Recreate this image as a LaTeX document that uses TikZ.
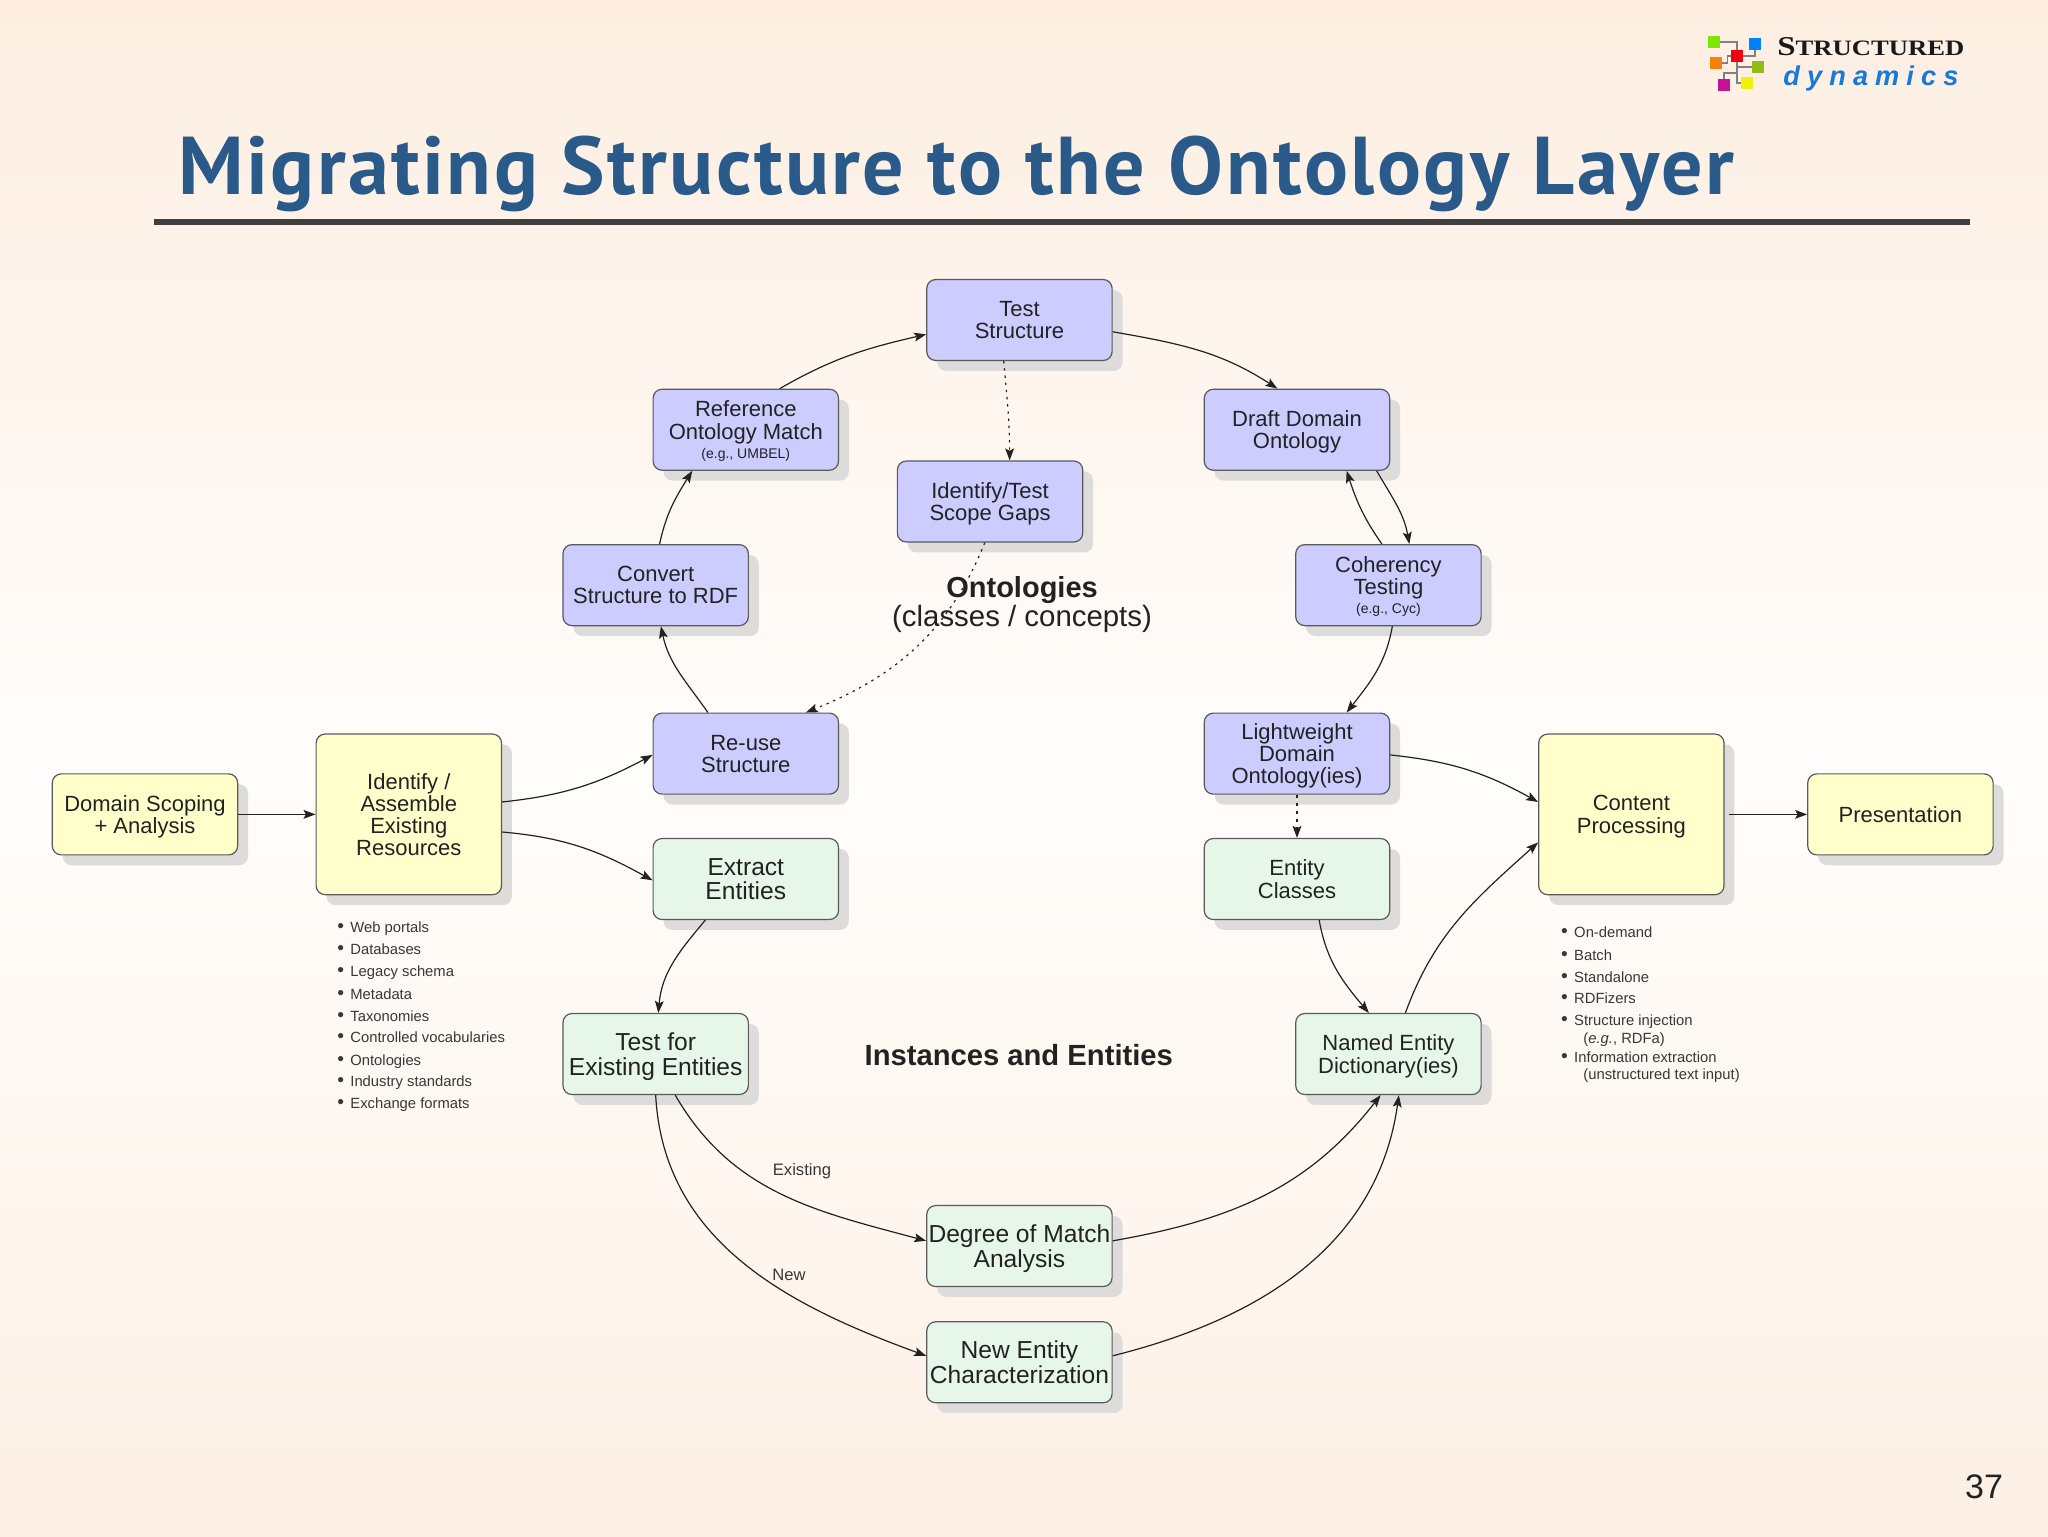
\documentclass[tikz,border=0pt]{standalone}
\usepackage{fontspec}
\setmainfont{Liberation Sans}
\newfontfamily\titlefont[LetterSpace=3]{PT Sans}
\newfontfamily\logoserif{Liberation Serif}
\newfontfamily\logodyn[LetterSpace=26]{Liberation Sans}
\usetikzlibrary{arrows.meta,shadows}
\definecolor{purplebox}{HTML}{CCCCFF}
\definecolor{yellowbox}{HTML}{FFFFCC}
\definecolor{greenbox}{HTML}{E6F7EA}
\definecolor{edgecol}{HTML}{5A5A5A}
\definecolor{inkcol}{HTML}{222222}
\definecolor{listcol}{HTML}{383838}
\definecolor{titlecol}{HTML}{2A5A8A}
\definecolor{shadowcol}{HTML}{DEDCDA}
\definecolor{peach}{HTML}{FDEEE1}
\definecolor{peachb}{HTML}{FDF0E5}
\definecolor{paper}{HTML}{FFFDFB}
\newcommand{\fsz}[1]{\fontsize{#1}{#1}\selectfont}
\tikzset{
  x=0.65306pt,y=-0.65306pt,
  bx/.style={draw=edgecol,line width=0.6pt,rounded corners=4.5pt,inner sep=0pt,align=center,
    minimum width=92.7pt,minimum height=40.5pt,text=inkcol,text depth=0pt,
    font=\fontsize{11}{11.1}\selectfont,
    drop shadow={shadow xshift=5.2pt,shadow yshift=-5.2pt,fill=shadowcol,opacity=1}},
  pbox/.style={bx,fill=purplebox},
  ybox/.style={bx,fill=yellowbox},
  gbox/.style={bx,fill=greenbox},
  gbig/.style={gbox,font=\fontsize{12.3}{12.4}\selectfont},
  tall/.style={minimum height=80.3pt},
  arr/.style={draw=inkcol,line width=0.6pt,-{Stealth[length=6pt,width=4.4pt,inset=1.2pt]}},
  dot/.style={arr,dash pattern=on 1.2pt off 2.4pt},
  itm/.style={anchor=base west,inner sep=0pt,text=listcol,font=\fsz{7.4}},
  lbl/.style={inner sep=0pt,text=listcol,font=\fsz{8.3}},
  sq/.style={minimum size=6pt,inner sep=0pt,draw=none},
}
\newcommand{\bul}{\makebox[6.5pt][l]{\scalebox{1.3}{•}}}
\begin{document}
\begin{tikzpicture}
\useasboundingbox (0,0) rectangle (1568,1176);
\shade[top color=peach,bottom color=peachb,middle color=paper] (0,0) rectangle (1568,1176);

% logo, in pixels of the 2048 image
\begin{scope}[x=0.5pt,y=-0.5pt]
\node[sq,fill={rgb,255:red,124;green,232;blue,0}] (lgreen) at (1714,42) {};
\node[sq,fill={rgb,255:red,0;green,128;blue,255}] (lblue) at (1755,44) {};
\node[sq,fill={rgb,255:red,240;green,0;blue,16}] (lred) at (1737,56) {};
\node[sq,fill={rgb,255:red,245;green,128;blue,10}] (lorange) at (1716,63) {};
\node[sq,fill={rgb,255:red,144;green,190;blue,20}] (lolive) at (1758,67) {};
\node[sq,fill={rgb,255:red,196;green,20;blue,150}] (lmag) at (1724,85) {};
\node[sq,fill={rgb,255:red,240;green,240;blue,10}] (lyel) at (1747,83) {};
\draw[gray,line width=0.7pt] (lgreen) -| (lred);
\draw[gray,line width=0.7pt] (lblue) |- (lred);
\draw[gray,line width=0.7pt] (lorange.east) -- ++(5,0) |- (lred.west);
\draw[gray,line width=0.7pt] (lred) |- (lyel);
\draw[gray,line width=0.7pt] (lred) |- (lolive);
\draw[gray,line width=0.7pt] (lmag) |- (1737,73) coordinate (lj);
\node[anchor=base west,inner sep=0pt,text=black!90] (lstruct) at (1777,55)
  {\scalebox{1.21}[1]{\logoserif\bfseries\fontsize{13.6}{13.6}\selectfont S\fontsize{11}{11}\selectfont TRUCTURED}};
\node[anchor=base west,inner sep=0pt,text={rgb,255:red,24;green,120;blue,220}] (ldyn) at (1783,85)
  {\logodyn\bfseries\itshape\fontsize{13.6}{13.6}\selectfont dynamics};
\end{scope}

% title
\node[inner sep=0pt,anchor=base west,text=titlecol] (title) at (136,149)
  {\titlefont\bfseries\fontsize{41}{41}\selectfont Migrating Structure to the Ontology Layer};
\fill[fill={rgb,255:red,63;green,63;blue,63}] (118,168) rectangle (1508,172);

% boxes
\node[pbox] (test) at (780.5,245) {Test\\Structure};
\node[pbox] (ref) at (571,329) {Reference\\Ontology Match\\[-1.5pt]{\fsz{7}(e.g., UMBEL)}};
\node[pbox] (draft) at (993,329) {Draft Domain\\Ontology};
\node[pbox] (idt) at (758,384) {Identify/Test\\Scope Gaps};
\node[pbox] (conv) at (502,448) {Convert\\Structure to RDF};
\node[pbox] (coh) at (1063,448) {Coherency\\Testing\\[-1.5pt]{\fsz{7}(e.g., Cyc)}};
\node[pbox] (reuse) at (571,577) {Re-use\\Structure};
\node[pbox] (light) at (993,577) {Lightweight\\Domain\\Ontology(ies)};
\node[ybox] (dom) at (111,623.5) {Domain Scoping\\+ Analysis};
\node[ybox,tall] (ident) at (313,623.5) {Identify /\\Assemble\\Existing\\Resources};
\node[ybox,tall] (cont) at (1249,623.5) {Content\\Processing};
\node[ybox] (pres) at (1455,623.5) {Presentation};
\node[gbig] (extr) at (571,673) {Extract\\Entities};
\node[gbox] (ent) at (993,673) {Entity\\Classes};
\node[gbig] (tfe) at (502,807) {Test for\\Existing Entities};
\node[gbox] (ned) at (1063,807) {Named Entity\\Dictionary(ies)};
\node[gbig] (deg) at (780.5,954) {Degree of Match\\Analysis};
\node[gbig] (newe) at (780.5,1043) {New Entity\\Characterization};

% connectors
\draw[arr] ([shift={(26,0)}]ref.north) to[out=30,in=193] ([shift={(0,11)}]test.west);
\draw[arr] ([shift={(0,9)}]test.east) to[out=-10,in=147] ([shift={(-15,0)}]draft.north);
\draw[arr] ([shift={(3,0)}]conv.north) to[out=78,in=238] ([shift={(-41,0)}]ref.south);
\draw[arr] ([shift={(-29,0)}]reuse.north) to[out=125,in=-78] ([shift={(4,0)}]conv.south);
\draw[arr] ([shift={(-5,0)}]coh.north) to[out=125,in=-72] ([shift={(38,0)}]draft.south);
\draw[arr] ([shift={(61,0)}]draft.south) to[out=-60,in=100] ([shift={(16,0)}]coh.north);
\draw[arr] ([shift={(3,0)}]coh.south) to[out=-100,in=52] ([shift={(38,0)}]light.north);
\draw[arr] ([shift={(0,-9.5)}]ident.east) to[out=6,in=208] ([shift={(0,1)}]reuse.west);
\draw[arr] ([shift={(0,13.5)}]ident.east) to[out=-5,in=151] ([shift={(0,1)}]extr.west);
\draw[arr] (dom.east) -- (ident.west);
\draw[arr] ([shift={(0,1)}]light.east) to[out=-6,in=151] ([shift={(0,-9.5)}]cont.west);
\draw[arr] ([shift={(13,0)}]ned.north) to[out=70,in=222] ([shift={(0,21.5)}]cont.west);
\draw[arr] ([shift={(3,0)}]cont.east) -- (pres.west);
\draw[arr,dash pattern=on 1.5pt off 2.5pt] (light.south) -- (ent.north);
\draw[arr] ([shift={(17,0)}]ent.south) to[out=-80,in=130] ([shift={(-15,0)}]ned.north);
\draw[arr] ([shift={(-31,0)}]extr.south) to[out=-130,in=85] ([shift={(2,0)}]tfe.north);
\draw[arr] ([shift={(15,0)}]tfe.south) to[out=-60,in=165] ([shift={(0,-4)}]deg.west);
\draw[arr] (tfe.south) to[out=-87,in=160] ([shift={(0,-5)}]newe.west);
\draw[arr] ([shift={(0,-4)}]deg.east) to[out=10,in=232] ([shift={(-6,0)}]ned.south);
\draw[arr] ([shift={(0,-5)}]newe.east) to[out=14,in=262] ([shift={(8,0)}]ned.south);
\draw[dot] ([shift={(-12,0)}]test.south) to[out=-85,in=90] ([shift={(15,0)}]idt.north);
\draw[dot] ([shift={(-4,0)}]idt.south) to[out=-112,in=22] ([shift={(46,0)}]reuse.north);

% captions
\node[inner sep=0pt,align=center,text=inkcol] (onto) at (782.5,463)
  {{\bfseries\fontsize{14.5}{15.2}\selectfont Ontologies}\\{\fontsize{14.7}{15.2}\selectfont (classes / concepts)}};
\node[inner sep=0pt,text=inkcol,font=\bfseries\fsz{14.6}] (inst) at (780,808) {Instances and Entities};
\node[lbl] (lex) at (614,897) {Existing};
\node[lbl] (lnew) at (604,976) {New};

% lists
\node[itm] (a1) at (258,714) {\bul Web portals};
\node[itm] (a2) at (258,731) {\bul Databases};
\node[itm] (a3) at (258,748) {\bul Legacy schema};
\node[itm] (a4) at (258,765) {\bul Metadata};
\node[itm] (a5) at (258,782) {\bul Taxonomies};
\node[itm] (a6) at (258,798.5) {\bul Controlled vocabularies};
\node[itm] (a7) at (258,815.5) {\bul Ontologies};
\node[itm] (a8) at (258,832) {\bul Industry standards};
\node[itm] (a9) at (258,849) {\bul Exchange formats};
\node[itm] (b1) at (1195,718) {\bul On-demand};
\node[itm] (b2) at (1195,735) {\bul Batch};
\node[itm] (b3) at (1195,752) {\bul Standalone};
\node[itm] (b4) at (1195,768) {\bul RDFizers};
\node[itm] (b5) at (1195,785.5) {\bul Structure injection};
\node[itm] (b5a) at (1212,799) {(\textit{e.g.}, RDFa)};
\node[itm] (b6) at (1195,813.5) {\bul Information extraction};
\node[itm] (b6a) at (1212,826.5) {(unstructured text input)};

\node[inner sep=0pt,text=inkcol,font=\fsz{17}] (pg) at (1519,1138) {37};
\end{tikzpicture}
\end{document}
